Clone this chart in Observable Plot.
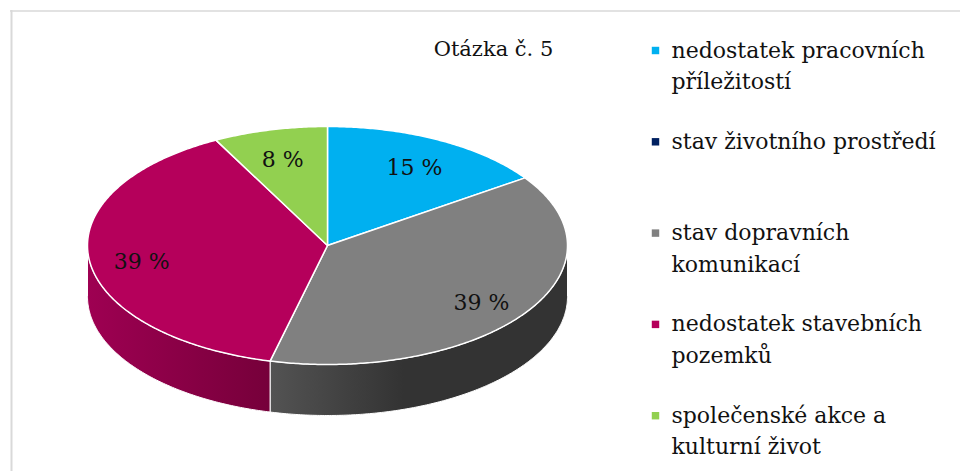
<!DOCTYPE html>
<html><head><meta charset="utf-8">
<script src="https://cdn.jsdelivr.net/npm/d3@7"></script>
<script src="https://cdn.jsdelivr.net/npm/@observablehq/plot@0.6"></script>
<style>body{margin:0;background:#fff}</style>
</head><body><div id="chart"></div>
<script>
// ---- data ----
const title = "Otázka č. 5";
const categories = [
  "nedostatek pracovních\npříležitostí",
  "stav životního prostředí",
  "stav dopravních\nkomunikací",
  "nedostatek stavebních\npozemků",
  "společenské akce a\nkulturní život"
];
const values = [15.4, 0, 38.5, 38.5, 7.7];
const valueLabels = ["15 %", "0 %", "39 %", "39 %", "8 %"];
const colors = ["#00B0F0", "#002060", "#808080", "#B5005B", "#92D050"];
const sideColors = [["#00a0dc", "#0088bb"], ["#001a50", "#001030"], ["#535353", "#333333"], ["#9e0052", "#76003a"], ["#80c040", "#6aa030"]];

// ---- geometry ----
const W = 960, H = 471;
const CX = 327, CY = 245, RX = 240, RY = 119, DEPTH = 51;
const FONT = "DejaVu Serif";
const total = d3.sum(values);
let acc = 0;
const slices = values.map((v, i) => {
  const a0 = acc / total * 2 * Math.PI; acc += v;
  const a1 = acc / total * 2 * Math.PI;
  return {i, v, a0, a1};
});
const px = a => CX + RX * Math.sin(a);
const py = a => CY - RY * Math.cos(a);
function arc(a0, a1, dy = 0) {
  const n = Math.max(2, Math.ceil(Math.abs(a1 - a0) / 0.01));
  return d3.range(n + 1).map(k => {
    const a = a0 + (a1 - a0) * k / n;
    return {x: px(a), y: py(a) + dy};
  });
}
const tops = slices.filter(s => s.v > 0).map(s => ({
  s, pts: [{x: CX, y: CY}, ...arc(s.a0, s.a1), {x: CX, y: CY}]
}));
const sides = slices.filter(s => s.v > 0).map(s => {
  const b0 = Math.max(s.a0, Math.PI / 2), b1 = Math.min(s.a1, 3 * Math.PI / 2);
  if (b1 <= b0) return null;
  const top = arc(b0, b1), bot = arc(b1, b0, DEPTH);
  return {s, pts: [...top, ...bot, top[0]]};
}).filter(d => d);

const LABEL_R = 0.78;
const labelData = slices.filter(s => s.v > 0).map(s => {
  const m = (s.a0 + s.a1) / 2;
  return {x: CX + LABEL_R * RX * Math.sin(m), y: CY - LABEL_R * RY * Math.cos(m) + 5, text: valueLabels[s.i]};
});

// legend rows
const LEG_X = 655, LEG_TX = 671, LEG_Y0 = 57, LEG_STEP = 91.3, LINE_H = 31.5;
const legendSquares = categories.map((c, i) => ({x: LEG_X, y: LEG_Y0 + i * LEG_STEP - 7, color: colors[i]}));
const legendLines = categories.flatMap((c, i) => c.split("\n").map((t, j) => ({x: LEG_TX, y: LEG_Y0 + i * LEG_STEP + j * LINE_H, text: t})));

const marks = [
  Plot.ruleY([10.5], {x1: 10, x2: W, stroke: "#d9d9d9", strokeWidth: 1.5}),
  Plot.ruleX([11], {y1: 10, y2: H, stroke: "#d9d9d9", strokeWidth: 2}),
  ...sides.map(d => Plot.line(d.pts, {x: "x", y: "y", curve: "linear", fill: `url(#side${d.s.i})`, stroke: "white", strokeWidth: 1})),
  ...tops.map(d => Plot.line(d.pts, {x: "x", y: "y", curve: "linear", fill: colors[d.s.i], stroke: "white", strokeWidth: 1.5, strokeLinejoin: "round"})),
  Plot.text(labelData, {x: "x", y: "y", text: "text", fontSize: 22, fontFamily: FONT, fill: "#111", lineAnchor: "middle", textAnchor: "middle"}),
  Plot.text([title], {x: () => 493, y: () => 55, text: d => d, fontSize: 21, fontFamily: FONT, fill: "#111", lineAnchor: "bottom", textAnchor: "middle"}),
  Plot.dot(legendSquares, {x: "x", y: "y", fill: "color", symbol: "square", r: 4.2}),
  Plot.text(legendLines, {x: "x", y: "y", text: "text", fontSize: 22, fontFamily: FONT, fill: "#111", lineAnchor: "bottom", textAnchor: "start"})
];

const svg = Plot.plot({
  width: W, height: H, margin: 0,
  x: {domain: [0, W], range: [0, W], axis: null},
  y: {domain: [0, H], range: [0, H], axis: null},
  color: {type: "identity"},
  style: {background: "white", fontFamily: FONT},
  marks
});
const defs = d3.select(svg).insert("defs", ":first-child");
sideColors.forEach((c, i) => {
  const g = defs.append("linearGradient").attr("id", `side${i}`).attr("x1", "0").attr("x2", "1").attr("y1", "0").attr("y2", "0");
  g.append("stop").attr("offset", "0").attr("stop-color", c[0]);
  g.append("stop").attr("offset", i === 2 ? "0.45" : "1").attr("stop-color", c[1]);
  if (i === 2) g.append("stop").attr("offset", "1").attr("stop-color", c[1]);
});
document.getElementById("chart").appendChild(svg);
</script>
</body></html>
